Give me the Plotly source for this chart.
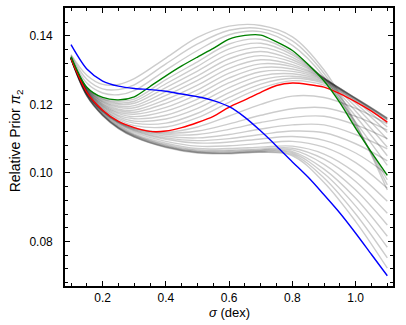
import plotly.graph_objects as go

# sigma grid (dex) for the grey family of priors
sigma_coarse = [0.10, 0.15, 0.20, 0.25, 0.30, 0.40, 0.50, 0.60, 0.70, 0.80, 0.90, 1.00, 1.10]
# finer grid for the highlighted curves
sigma_fine = [0.10, 0.15, 0.20, 0.25, 0.30, 0.35, 0.40, 0.45, 0.50, 0.55, 0.60,
              0.65, 0.70, 0.75, 0.80, 0.85, 0.90, 0.95, 1.00, 1.05, 1.10]

blue_prior = [0.1374, 0.1303, 0.1268, 0.1253, 0.1246, 0.1243, 0.1238, 0.1230, 0.1222, 0.1211, 0.1193,
              0.1162, 0.1122, 0.1078, 0.1032, 0.0987, 0.0936, 0.0883, 0.0824, 0.0762, 0.0700]
green_prior = [0.1339, 0.1250, 0.1220, 0.1213, 0.1222, 0.1252, 0.1283, 0.1312, 0.1338, 0.1363, 0.1390,
               0.1401, 0.1402, 0.1382, 0.1357, 0.1316, 0.1268, 0.1205, 0.1130, 0.1060, 0.0993]
red_prior = [0.1333, 0.1235, 0.1183, 0.1150, 0.1132, 0.1121, 0.1122, 0.1132, 0.1147, 0.1165, 0.1192,
             0.1213, 0.1235, 0.1255, 0.1262, 0.1258, 0.1250, 0.1231, 0.1207, 0.1180, 0.1148]

# grey curves, bottom of the family (flat middle, falling tail)
gray_low = [
    [0.1332, 0.1224, 0.1167, 0.1129, 0.1104, 0.1074, 0.1058, 0.1056, 0.1060, 0.1050, 0.0972, 0.0858, 0.0722],
    [0.1332, 0.1225, 0.1168, 0.1130, 0.1105, 0.1075, 0.1059, 0.1057, 0.1061, 0.1054, 0.0985, 0.0880, 0.0752],
    [0.1333, 0.1225, 0.1168, 0.1131, 0.1106, 0.1076, 0.1060, 0.1058, 0.1063, 0.1058, 0.0998, 0.0903, 0.0783],
    [0.1333, 0.1226, 0.1169, 0.1132, 0.1108, 0.1078, 0.1062, 0.1060, 0.1065, 0.1062, 0.1011, 0.0926, 0.0815],
    [0.1333, 0.1227, 0.1170, 0.1133, 0.1109, 0.1080, 0.1064, 0.1063, 0.1067, 0.1067, 0.1025, 0.0950, 0.0848],
    [0.1334, 0.1228, 0.1172, 0.1135, 0.1111, 0.1083, 0.1067, 0.1066, 0.1070, 0.1072, 0.1040, 0.0975, 0.0882],
    [0.1334, 0.1229, 0.1174, 0.1138, 0.1114, 0.1087, 0.1071, 0.1071, 0.1075, 0.1078, 0.1055, 0.1000, 0.0917],
    [0.1334, 0.1231, 0.1176, 0.1141, 0.1118, 0.1092, 0.1078, 0.1079, 0.1086, 0.1092, 0.1075, 0.1030, 0.0955],
    [0.1335, 0.1232, 0.1178, 0.1144, 0.1122, 0.1098, 0.1087, 0.1090, 0.1099, 0.1106, 0.1095, 0.1058, 0.0995],
    [0.1335, 0.1233, 0.1179, 0.1145, 0.1124, 0.1102, 0.1094, 0.1100, 0.1112, 0.1122, 0.1117, 0.1085, 0.1035],
    [0.1335, 0.1233, 0.1180, 0.1147, 0.1126, 0.1107, 0.1102, 0.1112, 0.1128, 0.1140, 0.1140, 0.1112, 0.1070],
    [0.1335, 0.1234, 0.1181, 0.1148, 0.1128, 0.1112, 0.1112, 0.1127, 0.1147, 0.1162, 0.1165, 0.1140, 0.1100],
    [0.1335, 0.1234, 0.1182, 0.1149, 0.1130, 0.1116, 0.1122, 0.1143, 0.1168, 0.1187, 0.1190, 0.1165, 0.1125],
    [0.1335, 0.1235, 0.1183, 0.1150, 0.1131, 0.1119, 0.1134, 0.1166, 0.1200, 0.1224, 0.1220, 0.1188, 0.1143],
]

# grey curves between the red and green ones
gray_mid = [
    [0.1334, 0.1236, 0.1186, 0.1155, 0.1138, 0.1134, 0.1161, 0.1206, 0.1247, 0.1269, 0.1256, 0.1212, 0.1155],
    [0.1334, 0.1237, 0.1188, 0.1159, 0.1145, 0.1145, 0.1174, 0.1220, 0.1259, 0.1276, 0.1261, 0.1215, 0.1158],
    [0.1335, 0.1238, 0.1191, 0.1164, 0.1151, 0.1157, 0.1188, 0.1234, 0.1271, 0.1282, 0.1265, 0.1217, 0.1160],
    [0.1335, 0.1239, 0.1194, 0.1168, 0.1158, 0.1168, 0.1202, 0.1249, 0.1283, 0.1289, 0.1268, 0.1218, 0.1160],
    [0.1335, 0.1240, 0.1196, 0.1173, 0.1164, 0.1180, 0.1215, 0.1263, 0.1295, 0.1296, 0.1271, 0.1218, 0.1158],
    [0.1336, 0.1241, 0.1199, 0.1177, 0.1171, 0.1191, 0.1229, 0.1277, 0.1307, 0.1303, 0.1273, 0.1217, 0.1154],
    [0.1336, 0.1242, 0.1201, 0.1182, 0.1177, 0.1203, 0.1242, 0.1291, 0.1318, 0.1310, 0.1275, 0.1215, 0.1146],
    [0.1336, 0.1244, 0.1204, 0.1186, 0.1183, 0.1214, 0.1256, 0.1305, 0.1330, 0.1316, 0.1276, 0.1210, 0.1134],
    [0.1337, 0.1245, 0.1207, 0.1191, 0.1190, 0.1226, 0.1270, 0.1319, 0.1342, 0.1323, 0.1277, 0.1203, 0.1118],
    [0.1337, 0.1246, 0.1209, 0.1195, 0.1196, 0.1237, 0.1283, 0.1333, 0.1354, 0.1330, 0.1277, 0.1193, 0.1098],
    [0.1337, 0.1247, 0.1212, 0.1200, 0.1203, 0.1249, 0.1297, 0.1347, 0.1366, 0.1337, 0.1276, 0.1180, 0.1075],
    [0.1338, 0.1248, 0.1215, 0.1204, 0.1209, 0.1260, 0.1311, 0.1362, 0.1378, 0.1344, 0.1274, 0.1165, 0.1050],
    [0.1338, 0.1249, 0.1217, 0.1209, 0.1215, 0.1272, 0.1324, 0.1376, 0.1390, 0.1350, 0.1271, 0.1148, 0.1022],
]

# grey curves above the green one
gray_high = [
    [0.1341, 0.1262, 0.1233, 0.1228, 0.1240, 0.1300, 0.1357, 0.1403, 0.1412, 0.1372, 0.1280, 0.1135, 0.0980],
    [0.1343, 0.1273, 0.1245, 0.1243, 0.1257, 0.1318, 0.1376, 0.1416, 0.1421, 0.1385, 0.1290, 0.1140, 0.0965],
    [0.1345, 0.1285, 0.1258, 0.1258, 0.1275, 0.1335, 0.1395, 0.1428, 0.1430, 0.1397, 0.1300, 0.1145, 0.0950],
]

FONT = "Liberation Sans, Arial, Helvetica, sans-serif"

fig = go.Figure()

for curve in gray_low + gray_mid + gray_high:
    fig.add_trace(go.Scatter(x=sigma_coarse, y=curve, mode="lines",
                             line=dict(color="rgba(0,0,0,0.2)", width=1.4, shape="spline", smoothing=1.0),
                             hoverinfo="skip"))

for vals, col in [(red_prior, "#ff0000"), (green_prior, "#008000"), (blue_prior, "#0000ff")]:
    fig.add_trace(go.Scatter(x=sigma_fine, y=vals, mode="lines",
                             line=dict(color=col, width=1.4, shape="spline", smoothing=0.8)))

axis_common = dict(
    showline=True, linecolor="black", linewidth=1.6, mirror="allticks",
    ticks="inside", ticklen=5, tickwidth=1.2, tickcolor="black",
    showgrid=False, zeroline=False,
    tickfont=dict(family=FONT, size=12, color="black"),
)

fig.update_xaxes(range=[0.081, 1.118], tickvals=[0.2, 0.4, 0.6, 0.8, 1.0],
                 ticktext=["0.2", "0.4", "0.6", "0.8", "1.0"],
                 minor=dict(dtick=0.05, tick0=0, ticks="inside", ticklen=3, tickwidth=1, tickcolor="black"),
                 ticklabelstandoff=0, **axis_common)
fig.update_yaxes(range=[0.067, 0.1481], tickvals=[0.08, 0.10, 0.12, 0.14],
                 ticktext=["0.08", "0.10", "0.12", "0.14"],
                 minor=dict(dtick=0.004, tick0=0, ticks="inside", ticklen=3, tickwidth=1, tickcolor="black"),
                 ticklabelstandoff=8, **axis_common)

fig.add_annotation(text="<i>σ</i> (dex)", xref="paper", yref="paper", x=0.5, y=-0.097,
                   xanchor="center", yanchor="middle",
                   showarrow=False, font=dict(family=FONT, size=13, color="black"))
fig.add_annotation(text="Relative Prior <i>π</i><sub>2</sub>", xref="paper", yref="paper",
                   x=-0.149, y=0.521, xanchor="center", yanchor="middle", textangle=-90,
                   showarrow=False, font=dict(family=FONT, size=14, color="black"))

fig.update_layout(
    width=406, height=325,
    margin=dict(l=65, r=13, t=6, b=39),
    paper_bgcolor="white", plot_bgcolor="white",
    showlegend=False,
)

fig.write_html("out.html", config={"displayModeBar": False},
               post_script="document.body.style.margin='0';")
